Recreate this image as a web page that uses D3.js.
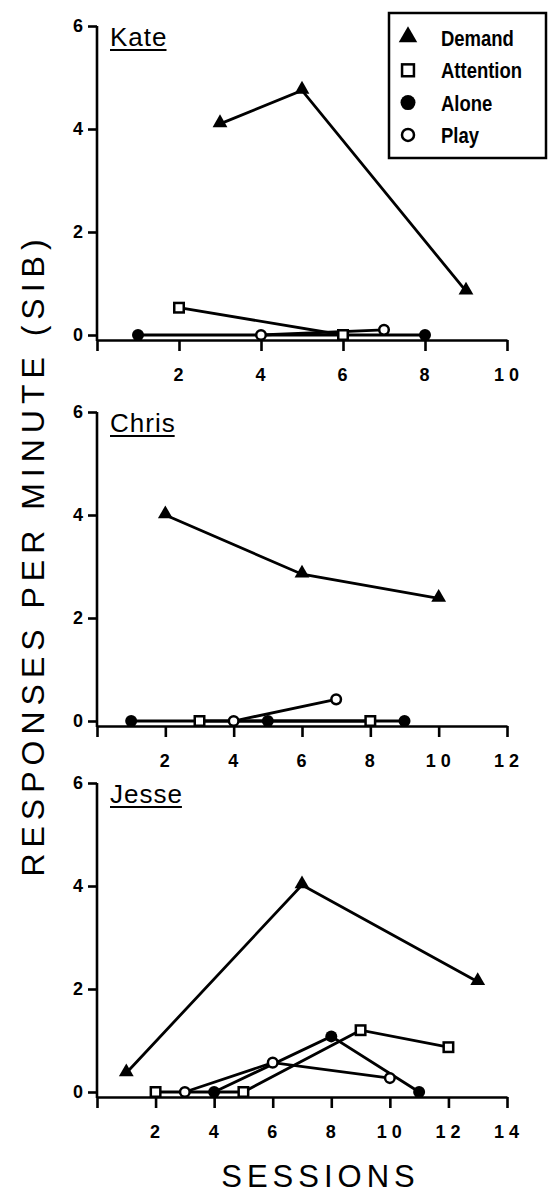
<!DOCTYPE html>
<html>
<head>
<meta charset="utf-8">
<title>Responses per minute (SIB)</title>
<script src="https://d3js.org/d3.v7.min.js"></script>
<style>
  body { margin: 0; background: #fff; }
  svg text { font-family: "Liberation Sans", Arial, Helvetica, sans-serif; fill: #000; }
</style>
</head>
<body>
<svg id="chart" width="548" height="1195"></svg>
<script>
// conditions, in legend order
var conditions = ["Demand", "Attention", "Alone", "Play"];
var yTicks = [0, 2, 4, 6];

// Kate: [session, responses per minute]
var kateDemand = [[3, 4.1], [5, 4.75], [9, 0.85]];
var kateAttention = [[2, 0.53], [6, 0]];
var kateAlone = [[1, 0], [8, 0]];
var katePlay = [[4, 0], [7, 0.1]];
var kateXTicks = [0, 2, 4, 6, 8, 10];

// Chris
var chrisDemand = [[2, 4.0], [6, 2.85], [10, 2.38]];
var chrisAttention = [[3, 0], [8, 0]];
var chrisAlone = [[1, 0], [5, 0], [9, 0]];
var chrisPlay = [[4, 0], [7, 0.42]];
var chrisXTicks = [0, 2, 4, 6, 8, 10, 12];

// Jesse
var jesseDemand = [[1, 0.37], [7, 4.02], [13, 2.14]];
var jesseAttention = [[2, 0], [5, 0], [9, 1.2], [12, 0.87]];
var jesseAlone = [[4, 0], [8, 1.08], [11, 0]];
var jessePlay = [[3, 0], [6, 0.57], [10, 0.27]];
var jesseXTicks = [0, 2, 4, 6, 8, 10, 12, 14];

var panels = [
    { name: "Kate", xTicks: kateXTicks, series: [kateDemand, kateAttention, kateAlone, katePlay] },
    { name: "Chris", xTicks: chrisXTicks, series: [chrisDemand, chrisAttention, chrisAlone, chrisPlay] },
    { name: "Jesse", xTicks: jesseXTicks, series: [jesseDemand, jesseAttention, jesseAlone, jessePlay] }
];

var svg = d3.select("#chart");

// layout of the three stacked panels
var tops = [26, 412, 783];
var plotH = 309, left = 97, right = 507, axisGap = 5;

function marker(g, cond, cx, cy, k) {
    k = k || 1;
    if (cond === "Demand") {
        g.append("path")
            .attr("d", d3.symbol(d3.symbolTriangle, 95 * k * k)())
            .attr("transform", "translate(" + cx + "," + (cy - 1) + ")")
            .attr("fill", "#000");
    } else if (cond === "Attention") {
        var s = 9.5 * k;
        g.append("rect")
            .attr("x", cx - s / 2).attr("y", cy - s / 2)
            .attr("width", s).attr("height", s)
            .attr("fill", "#fff").attr("stroke", "#000").attr("stroke-width", 2.5);
    } else if (cond === "Alone") {
        g.append("circle")
            .attr("cx", cx).attr("cy", cy).attr("r", 6 * k)
            .attr("fill", "#000");
    } else {
        g.append("circle")
            .attr("cx", cx).attr("cy", cy).attr("r", 4.8 * k)
            .attr("fill", "#fff").attr("stroke", "#000").attr("stroke-width", 2.5);
    }
}

panels.forEach(function (p, i) {
    var top = tops[i];
    var xMax = d3.max(p.xTicks);
    var x = d3.scaleLinear().domain([0, xMax]).range([left, right]);
    var y = d3.scaleLinear().domain([0, 6]).range([top + plotH, top]);
    var axisY = y(0) + axisGap;

    var g = svg.append("g").attr("class", "panel");

    // y axis
    var ya = g.append("g")
        .attr("transform", "translate(" + left + ",0)")
        .call(d3.axisLeft(y).tickValues(yTicks).tickFormat(d3.format("d"))
            .tickSize(9).tickPadding(5).tickSizeOuter(0));
    ya.select(".domain").remove();
    ya.append("line")
        .attr("x1", 0).attr("x2", 0)
        .attr("y1", y(6)).attr("y2", axisY + 1)
        .attr("stroke", "#000");

    // x axis
    var xa = g.append("g")
        .attr("transform", "translate(0," + axisY + ")")
        .call(d3.axisBottom(x).tickValues(p.xTicks).tickSize(11).tickPadding(17).tickSizeOuter(0)
            .tickFormat(function (d) { return d === 0 ? "" : d; }));

    [ya, xa].forEach(function (a) {
        a.attr("font-family", null).attr("font-size", null);
        a.selectAll("line, path").attr("stroke-width", 2.6).attr("stroke", "#000");
        a.selectAll("text")
            .style("font-size", "18px").style("font-weight", "bold");
    });
    xa.selectAll("text").style("letter-spacing", "5px").attr("dx", 1.5);

    // participant name, underlined
    var nm = g.append("text")
        .attr("x", left + 13).attr("y", top + 20)
        .style("font-size", "26px")
        .style("letter-spacing", "1px")
        .text(p.name);
    var w = nm.node().getComputedTextLength() - 1;
    g.append("line")
        .attr("x1", left + 13).attr("x2", left + 13 + w)
        .attr("y1", top + 24).attr("y2", top + 24)
        .attr("stroke", "#000").attr("stroke-width", 2);

    // lines
    var line = d3.line().x(function (d) { return x(d[0]); }).y(function (d) { return y(d[1]); });
    p.series.forEach(function (s) {
        g.append("path")
            .datum(s)
            .attr("d", line)
            .attr("fill", "none")
            .attr("stroke", "#000")
            .attr("stroke-width", 2.8);
    });

    // markers
    p.series.forEach(function (s, j) {
        s.forEach(function (d) {
            marker(g, conditions[j], x(d[0]), y(d[1]));
        });
    });
});

// legend
var lg = svg.append("g").attr("class", "legend");
lg.append("rect")
    .attr("x", 389).attr("y", 13).attr("width", 157).attr("height", 145)
    .attr("fill", "#fff").attr("stroke", "#000").attr("stroke-width", 2.5);
conditions.forEach(function (c, i) {
    var cy = 38 + i * 32.3;
    marker(lg, c, 408, cy, 1.25);
    var t = lg.append("text")
        .attr("x", 441).attr("y", cy)
        .attr("dy", "0.36em")
        .style("font-weight", "bold")
        .style("font-size", "22px")
        .text(c);
    // the original legend face is a condensed one
    var len = t.node().getComputedTextLength();
    t.attr("textLength", len * 0.84).attr("lengthAdjust", "spacingAndGlyphs");
});

// axis titles
svg.append("text")
    .attr("transform", "translate(33,558) rotate(-90)")
    .attr("text-anchor", "middle")
    .attr("dominant-baseline", "central")
    .attr("dx", 3)
    .style("font-size", "32px")
    .style("letter-spacing", "6px")
    .text("RESPONSES PER MINUTE (SIB)");

svg.append("text")
    .attr("x", 318).attr("y", 1176)
    .attr("text-anchor", "middle")
    .attr("dominant-baseline", "central")
    .attr("dx", 2.5)
    .style("font-size", "31px")
    .style("letter-spacing", "5px")
    .text("SESSIONS");
</script>
</body>
</html>
